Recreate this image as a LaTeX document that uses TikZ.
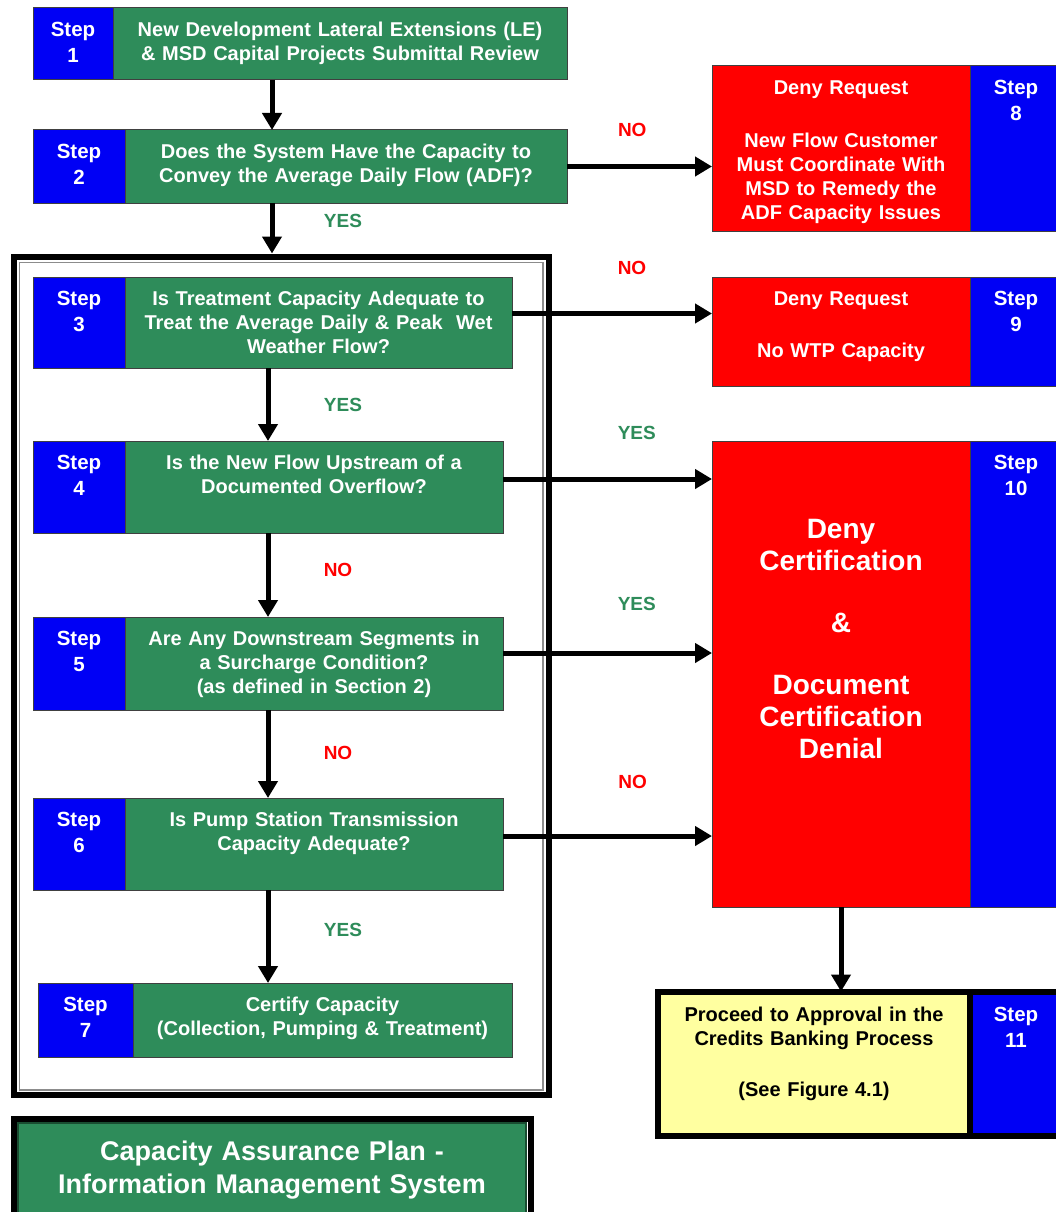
\documentclass[tikz,border=0pt]{standalone}
\usepackage{fontspec}
\setmainfont{Liberation Sans}
\usetikzlibrary{arrows.meta, positioning}
\definecolor{capGreen}{RGB}{46,140,90}
\definecolor{capBlue}{RGB}{0,0,245}
\definecolor{capRed}{RGB}{255,0,0}
\definecolor{capYellow}{RGB}{255,255,160}

\begin{document}
\begin{tikzpicture}[
            x=1pt, y=-1pt,
            font=\bfseries,
            >={Triangle[length=17pt, width=19pt]},
            % Styles
            cell/.style={
                draw=black!75, line width=1pt, outer sep=0pt, inner sep=0pt,
                align=center, text height=28.5pt, text=white,
                font=\fontsize{20}{24}\selectfont\bfseries
            },
            stepbox/.style={
                cell, fill=capBlue, text width=#1, font=\fontsize{20.5}{26}\selectfont\bfseries
            },
            stepbox/.default=92pt,
            askbox/.style={cell, fill=capGreen, text width=#1},
            denybox/.style={cell, fill=capRed, text width=258pt},
            flow/.style={->, line width=5pt},
            yeslabel/.style={text=capGreen, font=\fontsize{19}{19}\selectfont\bfseries},
            nolabel/.style={text=capRed, font=\fontsize{19}{19}\selectfont\bfseries}
        ]

            % --- Page ---
            \useasboundingbox (0,0) rectangle (1056,1212);
            \clip (0,0) rectangle (1056,1212);
            \fill[white] (0,0) rectangle (1056,1212);

            % --- Frame round steps 3 to 7 ---
            \draw[line width=6pt] (13.5,256.5) rectangle (548.5,1095);
            \draw[black!45, line width=1.5pt] (19.5,262.5) rectangle (543,1090);

            % --- Steps 1 to 7 ---
            \node[stepbox=80pt, text depth=43.5pt, anchor=north west] (s1) at (33,8) {Step\\1};
            \node[askbox=454pt, text depth=43.5pt, right=0pt of s1] (q1) {New Development Lateral Extensions (LE)\\\& MSD Capital Projects Submittal Review};

            \node[stepbox, text depth=44.5pt, anchor=north west] (s2) at (33,130) {Step\\2};
            \node[askbox=442pt, text depth=44.5pt, right=0pt of s2] (q2) {Does the System Have the Capacity to\\Convey the Average Daily Flow (ADF)?};

            \node[stepbox, text depth=62.5pt, anchor=north west] (s3) at (33,277) {Step\\3};
            \node[askbox=387pt, text depth=62.5pt, right=0pt of s3] (q3) {Is Treatment Capacity Adequate to\\Treat the Average Daily \& Peak\ \ Wet\\Weather Flow?};

            \node[stepbox, text depth=63.5pt, anchor=north west] (s4) at (33,441) {Step\\4};
            \node[askbox=378pt, text depth=63.5pt, right=0pt of s4] (q4) {Is the New Flow Upstream of a\\Documented Overflow?};

            \node[stepbox, text depth=64.5pt, anchor=north west] (s5) at (33,617) {Step\\5};
            \node[askbox=378pt, text depth=64.5pt, right=0pt of s5] (q5) {Are Any Downstream Segments in\\a Surcharge Condition?\\(as defined in Section 2)};

            \node[stepbox, text depth=63.5pt, anchor=north west] (s6) at (33,798) {Step\\6};
            \node[askbox=378pt, text depth=63.5pt, right=0pt of s6] (q6) {Is Pump Station Transmission\\Capacity Adequate?};

            \node[stepbox=95pt, text depth=45.5pt, anchor=north west] (s7) at (38,983) {Step\\7};
            \node[askbox=379pt, text depth=45.5pt, right=0pt of s7] (q7) {Certify Capacity\\(Collection, Pumping \& Treatment)};

            % --- Steps 8 to 10 (denials) ---
            \node[denybox, text depth=136.5pt, anchor=north west] (d8) at (712,66) {Deny Request\\[29pt]New Flow Customer\\Must Coordinate With\\MSD to Remedy the\\ADF Capacity Issues};
            \node[stepbox, text depth=136.5pt, right=0pt of d8] (s8) {Step\\8};

            \node[denybox, text depth=80.5pt, anchor=north west] (d9) at (712,277) {Deny Request\\[28pt]No WTP Capacity};
            \node[stepbox, text depth=80.5pt, right=0pt of d9] (s9) {Step\\9};

            \node[denybox, text height=97pt, text depth=369pt, font=\fontsize{28}{32}\selectfont\bfseries, anchor=north west] (d10) at (712,441) {Deny\\Certification\\[30pt]\&\\[30pt]Document\\Certification\\Denial};
            \node[stepbox, text depth=437.5pt, right=0pt of d10] (s10) {Step\\10};

            % --- Step 11 ---
            \node[cell, fill=capYellow, text=black, draw=black, line width=6pt, text width=312pt, text height=29.5pt, text depth=114.5pt, anchor=north west] (p11) at (658,991.5) {Proceed to Approval in the\\Credits Banking Process\\[27pt](See Figure 4.1)};
            \node[stepbox, draw=black, line width=6pt, text height=29.5pt, text depth=114.5pt, right=0pt of p11] (s11) {Step\\11};

            % --- Title box ---
            \node[cell, fill=capGreen, draw=capGreen!55!black, line width=2pt, text width=508pt, text height=37pt, text depth=63pt, font=\fontsize{27}{33}\selectfont\bfseries, anchor=north west] (cap) at (18,1123) {Capacity Assurance Plan -\\Information Management System};
            \draw[line width=6pt] ([shift={(-4.5,-4.5)}]cap.north west) rectangle ([shift={(4.5,4.5)}]cap.south east);

            % --- Arrows down the left ---
            \coordinate (spineA) at (272,0);
            \coordinate (spineB) at (268,0);
            \coordinate (frametop) at (272,253.5);

            \draw[flow] (q1.south -| spineA) -- (q2.north -| spineA);
            \draw[flow] (q2.south -| spineA) -- node[yeslabel, pos=0.36, xshift=71pt] {YES} (frametop);
            \draw[flow] (q3.south -| spineB) -- node[yeslabel, pos=0.5, xshift=75pt] {YES} (q4.north -| spineB);
            \draw[flow] (q4.south -| spineB) -- node[nolabel, pos=0.44, xshift=70pt] {NO} (q5.north -| spineB);
            \draw[flow] (q5.south -| spineB) -- node[nolabel, pos=0.49, xshift=70pt] {NO} (q6.north -| spineB);
            \draw[flow] (q6.south -| spineB) -- node[yeslabel, pos=0.43, xshift=75pt] {YES} (q7.north -| spineB);

            % --- Arrows to the right ---
            \draw[flow] (q2.east) -- node[nolabel, pos=0.45, yshift=37pt] {NO} (q2.east -| d8.west);
            \draw[flow] ([yshift=9pt]q3.east) -- node[nolabel, pos=0.6, yshift=46pt] {NO} ([yshift=9pt]q3.east -| d9.west);
            \draw[flow] ([yshift=8pt]q4.east) -- node[yeslabel, pos=0.64, yshift=46pt] {YES} ([yshift=8pt]q4.east -| d10.west);
            \draw[flow] ([yshift=10.5pt]q5.east) -- node[yeslabel, pos=0.64, yshift=49pt] {YES} ([yshift=10.5pt]q5.east -| d10.west);
            \draw[flow] ([yshift=8pt]q6.east) -- node[nolabel, pos=0.62, yshift=54pt] {NO} ([yshift=8pt]q6.east -| d10.west);
            \draw[flow] (d10.south) -- (p11.north -| d10.south);

        \end{tikzpicture}
\end{document}
